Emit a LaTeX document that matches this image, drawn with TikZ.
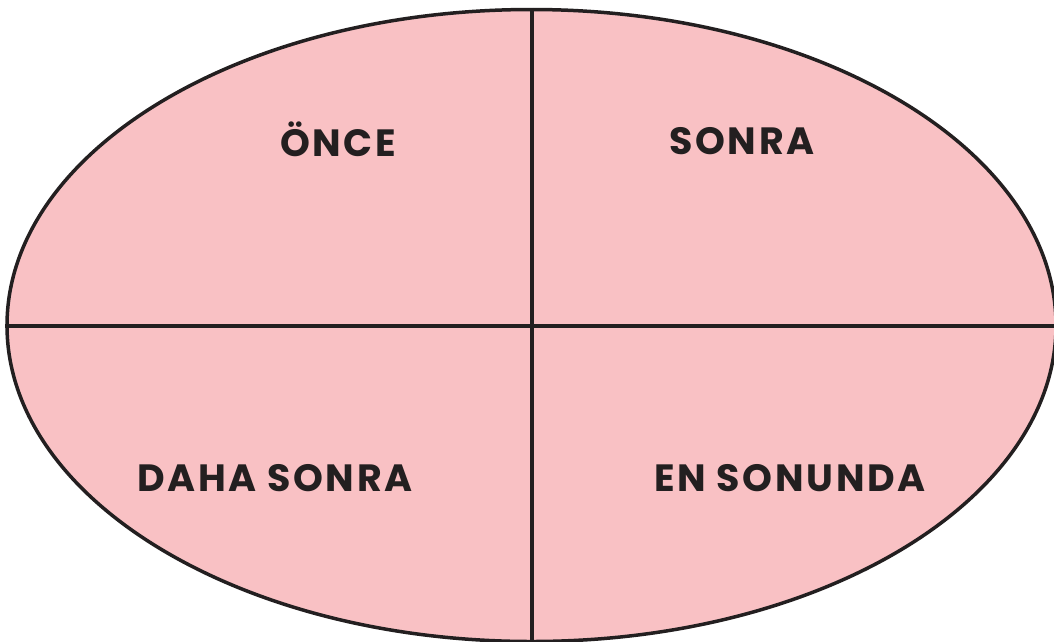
\documentclass[tikz,border=0pt]{standalone}
\usepackage{fontspec}
\setmainfont{Poppins}[LetterSpace=7]
\usetikzlibrary{shapes.geometric}
\definecolor{petal}{HTML}{F9C1C4}
\definecolor{ink}{HTML}{231F20}
\begin{document}
\begin{tikzpicture}[x=1pt,y=1pt,
  oval/.style={ellipse,draw=ink,fill=petal,line width=3.5pt,inner sep=0pt,minimum width=1049pt,minimum height=632pt},
  divider/.style={draw=ink,line width=4pt},
  label/.style={text=ink,font=\fontsize{38}{44}\selectfont\bfseries,inner sep=0pt,anchor=base}]
\useasboundingbox (0,0) rectangle (1054,-641);
\begin{scope}
\clip (0,0) rectangle (1054,-641);
\node[oval] (e) at (531.5,-325.5) {};
\draw[divider] (e.north) -- (e.south);
\draw[divider] (e.west) -- (e.east);
\end{scope}
\node[label] (a) at (338,-156) {ÖNCE};
\node[label] (b) at (742,-154) {SONRA};
\node[label] (c) at (275,-491) {DAHA SONRA};
\node[label] (d) at (790,-491) {EN SONUNDA};
\end{tikzpicture}
\end{document}
